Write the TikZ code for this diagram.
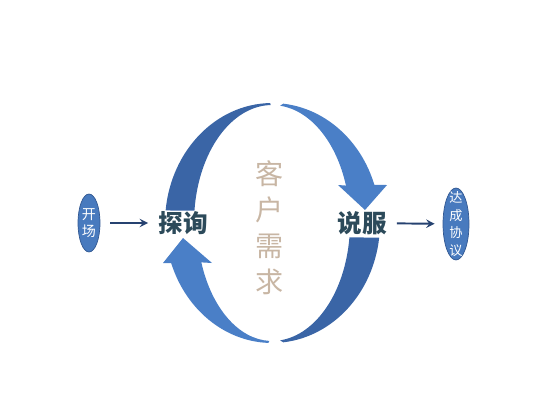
\documentclass[tikz,border=0pt]{standalone}
\usepackage{fontspec}
\newfontfamily\cjk{Noto Sans CJK SC}
\usepackage{xcolor}
\usepackage{tikz}
\usetikzlibrary{shapes.geometric, arrows}
\definecolor{ringdark}{RGB}{58,101,166}
\definecolor{ringlight}{RGB}{74,127,199}
\definecolor{bubblefill}{RGB}{72,122,190}
\definecolor{bubbleedge}{RGB}{50,88,146}
\definecolor{stageink}{RGB}{44,74,90}
\definecolor{needink}{RGB}{200,182,164}
\definecolor{linkink}{RGB}{38,66,112}
\tikzstyle{bubble} = [ellipse, fill=bubblefill, draw=bubbleedge, inner sep=0pt]
\tikzstyle{bubbletext} = [text=white, font=\cjk\fontsize{8}{9.5}\selectfont, align=center, inner sep=0pt]
\tikzstyle{stage} = [font=\cjk\bfseries\fontsize{14}{16}\selectfont, text=stageink, inner sep=0pt]
\tikzstyle{arrow} = [line width=1.1pt,->,>=stealth, draw=linkink]

\begin{document}
\begin{tikzpicture}[x=0.02cm, y=0.02cm]
				\useasboundingbox (0,0) rectangle (533,400);
				
				\coordinate (ring) at (272,177);
				
				% upper left half ring
				\fill [ringdark] ([shift={(174:2.14cm and 2.4cm)}]ring) arc [start angle=174, end angle=91, x radius=2.14cm, y radius=2.4cm]
					-- ([shift={(91:1.56cm and 2.36cm)}]ring) arc [start angle=91, end angle=174, x radius=1.56cm, y radius=2.36cm] -- cycle;
				% upper right half ring with arrow head
				\fill [ringlight] ([shift={(84:2.16cm and 2.4cm)}]ring) arc [start angle=84, end angle=18.5, x radius=2.16cm, y radius=2.4cm]
					-- (387,215) -- (365,190) -- (338,215)
					-- ([shift={(18.5:1.56cm and 2.36cm)}]ring) arc [start angle=18.5, end angle=84, x radius=1.56cm, y radius=2.36cm] -- cycle;
				% lower right half ring
				\fill [ringdark] ([shift={(-7:2.16cm and 2.4cm)}]ring) arc [start angle=-7, end angle=-84, x radius=2.16cm, y radius=2.4cm]
					-- ([shift={(-84:1.56cm and 2.36cm)}]ring) arc [start angle=-84, end angle=-7, x radius=1.56cm, y radius=2.36cm] -- cycle;
				% lower left half ring with arrow head
				\fill [ringlight] ([shift={(268:2.14cm and 2.4cm)}]ring) arc [start angle=268, end angle=199.5, x radius=2.14cm, y radius=2.4cm]
					-- (163,137) -- (183,162) -- (212,137)
					-- ([shift={(199.5:1.5cm and 2.36cm)}]ring) arc [start angle=199.5, end angle=268, x radius=1.5cm, y radius=2.36cm] -- cycle;
				
				\node (xuqiu) [font=\cjk\fontsize{16}{20.5}\selectfont, text=needink, align=center] at (270,172) {客\\户\\需\\求};
				
				\node (kaichang) [bubble, minimum width=0.44cm, minimum height=1.16cm, label={[bubbletext]center:开\\场}] at (89,177) {};
				\node (tanxun) [stage] at (183,177) {探询};
				\node (shuofu) [stage] at (362,177) {说服};
				\node (xieyi) [bubble, minimum width=0.52cm, minimum height=1.44cm, label={[bubbletext, font=\cjk\fontsize{7.5}{10}\selectfont]center:达\\成\\协\\议}] at (456,176) {};
				
				\draw [arrow, shorten <=0.2cm, shorten >=0.2cm] (kaichang) -- (tanxun);
				\draw [arrow, shorten <=0.2cm, shorten >=0.16cm] (shuofu) -- (xieyi);
				
\end{tikzpicture}
\end{document}
